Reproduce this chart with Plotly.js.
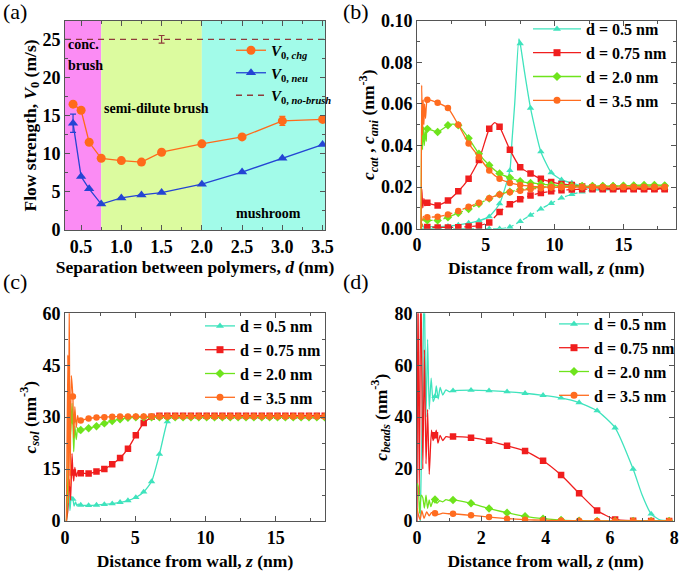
<!DOCTYPE html>
<html><head><meta charset="utf-8">
<script src="https://cdn.plot.ly/plotly-3.0.1.min.js"></script>
<style>html,body{margin:0;padding:0;background:#fff}#chart{width:681px;height:572px}</style>
</head><body><div id="chart"></div>
<script>
// ---------- Panel (a) data ----------
const dSep      = [0.4, 0.5, 0.6, 0.75, 1.0, 1.25, 1.5, 2.0, 2.5, 3.0, 3.5];
const v0Chg     = [16.5, 15.7, 11.5, 9.4, 9.1, 8.9, 10.2, 11.3, 12.2, 14.3, 14.5];
const v0ChgErr  = [0, 0, 0, 0, 0, 0, 0, 0, 0, 0.6, 0];
const v0Neu     = [14.0, 7.0, 5.4, 3.4, 4.2, 4.6, 4.9, 6.0, 7.6, 9.4, 11.2];
const v0NeuErr  = [1.2, 0, 0, 0, 0, 0, 0, 0, 0, 0, 0];
const v0NoBrush = 25;
const v0NoBrushErr = 0.5;
const v0NoBrushErrAt = 1.5;
const regimeBounds = [0.75, 2.0];
const xRangeA = [0.3, 3.53];

// ---------- shared series labels ----------
const seriesNames = ['d = 0.5 nm', 'd = 0.75 nm', 'd = 2.0 nm', 'd = 3.5 nm'];

// ---------- Panel (b): ion concentrations ----------
const zMarkB = [0.75,1.5,2.25,3.0,3.75,4.5,5.25,6.0,6.75,7.5,8.25,9.0,9.75,10.5,11.25,12.0,12.75,13.5,14.25,15.0,15.75,16.5,17.25,18.0];
const cat05  = [0.001,0.001,0.0012,0.0018,0.0027,0.0038,0.0058,0.012,0.028,0.089,0.058,0.037,0.027,0.0235,0.022,0.0205,0.019,0.0185,0.019,0.0192,0.0195,0.0195,0.0195,0.0195];
const cat05xZ = [0.3,0.38,0.48,0.6,6.9,7.1,7.4,7.8];
const cat05xC = [0,0.002,0.0008,0.0012,0.042,0.06,0.0912,0.076];
const ani05  = [0,0,0,0,0,0,0,0,0.0008,0.0035,0.0065,0.0095,0.0122,0.0148,0.0165,0.0177,0.0185,0.019,0.0193,0.0195,0.0195,0.0195,0.0195,0.0195];
const ani05xZ = [0.3];
const ani05xC = [0];
const cat075 = [0.0125,0.0112,0.0135,0.018,0.024,0.033,0.048,0.049,0.038,0.0295,0.0265,0.024,0.0225,0.0215,0.021,0.0203,0.0198,0.0195,0.0193,0.0192,0.0192,0.0192,0.0192,0.0192];
const cat075xZ = [0.3,0.35,0.42,0.5,0.58,0.66,5.65];
const cat075xC = [0,0.019,0.010,0.0145,0.011,0.0135,0.051];
const ani075 = [0.0008,0.0006,0.0006,0.0007,0.001,0.0015,0.003,0.008,0.0118,0.0142,0.016,0.0172,0.018,0.0185,0.0188,0.019,0.019,0.019,0.019,0.019,0.019,0.019,0.019,0.019];
const ani075xZ = [0.3,0.4,0.5];
const ani075xC = [0,0.002,0.0006];
const cat20  = [0.048,0.0465,0.0497,0.0497,0.0435,0.036,0.0305,0.0265,0.0245,0.0228,0.022,0.0215,0.021,0.0207,0.0205,0.0205,0.0205,0.0205,0.0205,0.0207,0.0208,0.021,0.021,0.0208];
const cat20xZ = [0.3,0.34,0.4,0.47,0.53,0.6,0.67,2.6];
const cat20xC = [0,0.057,0.038,0.049,0.040,0.047,0.042,0.0503];
const ani20  = [0.004,0.004,0.0055,0.0075,0.0095,0.012,0.0145,0.0165,0.0178,0.0188,0.0195,0.020,0.0202,0.0203,0.0203,0.0203,0.0204,0.0204,0.0204,0.0205,0.0205,0.0205,0.0205,0.0205];
const ani20xZ = [0.3,0.4,0.5,0.6];
const ani20xC = [0,0.003,0.005,0.0038];
const cat35  = [0.062,0.0605,0.058,0.050,0.041,0.0345,0.028,0.024,0.022,0.021,0.0205,0.020,0.020,0.020,0.020,0.020,0.020,0.020,0.020,0.020,0.020,0.020,0.020,0.020];
const cat35xZ = [0.3,0.34,0.4,0.45,0.5,0.55,0.62,0.68];
const cat35xC = [0,0.069,0.045,0.062,0.050,0.060,0.053,0.059];
const ani35  = [0.0055,0.0057,0.0068,0.0085,0.0105,0.0125,0.0146,0.0165,0.0175,0.0183,0.019,0.0195,0.0198,0.020,0.020,0.020,0.020,0.020,0.020,0.020,0.020,0.020,0.020,0.020];
const ani35xZ = [0.3,0.4,0.5,0.6];
const ani35xC = [0,0.004,0.0065,0.005];

// ---------- Panel (c): solvent concentration ----------
const zMarkC = [0.56,1.12,1.68,2.24,2.8,3.36,3.92,4.48,5.04,5.6,6.16,6.72,7.28,7.84,8.4,8.96,9.52,10.08,10.64,11.2,11.76,12.32,12.88,13.44,14.0,14.56,15.12,15.68,16.24,16.8,17.36,17.92,18.48];
const sol05  = [6.3,4.6,4.5,4.6,4.8,5.0,5.4,5.9,6.8,8.4,11.4,19.3,28.7,30.0,30.0,30.0,30.0,30.0,30.0,30.0,30.0,30.0,30.0,30.0,30.0,30.0,30.0,30.0,30.0,30.0,30.0,30.0,30.0];
const sol05xZ = [0.1,0.2,0.28,0.35,0.45,0.65,0.75,0.85,0.95,7.5];
const sol05xC = [0,5,9,3,7,4.3,5.5,4.4,4.9,29.8];
const sol075 = [14,13.8,13.7,14.3,15.0,16.4,18.2,20.9,24.8,28.3,30.1,30.4,30.4,30.4,30.4,30.4,30.4,30.4,30.4,30.4,30.4,30.4,30.4,30.4,30.4,30.4,30.4,30.4,30.4,30.4,30.4,30.4,30.4];
const sol075xZ = [0.1,0.2,0.3,0.4,0.5,0.62,0.7,0.8,0.9,1.0];
const sol075xC = [0,3,12,6,19.5,11.5,15.5,12.8,14.2,13.5];
const sol20  = [29,26.3,26.8,27.4,28.2,28.9,29.4,29.8,30.0,30.0,30.0,30.0,30.0,30.0,30.0,30.0,30.0,30.0,30.0,30.0,30.0,30.0,30.0,30.0,30.0,30.0,30.0,30.0,30.0,30.0,30.0,30.0,30.0];
const sol20xZ = [0.1,0.2,0.3,0.4,0.5,0.62,0.7,0.8,0.9,1.0];
const sol20xC = [0,12,33,25,34,20,27.5,23.5,27,25.5];
const sol35  = [36,29.0,29.6,29.9,30.0,30.1,30.2,30.2,30.2,30.2,30.2,30.2,30.2,30.2,30.2,30.2,30.2,30.2,30.2,30.2,30.2,30.2,30.2,30.2,30.2,30.2,30.2,30.2,30.2,30.2,30.2,30.2,30.2];
const sol35xZ = [0.1,0.2,0.25,0.3,0.36,0.45,0.62,0.7,0.8,0.9,1.0];
const sol35xC = [0,48,5,65,10,42,24,33,27,30.5,28.5];

// ---------- Panel (d): bead concentration ----------
const zMarkD = [0.56,1.12,1.68,2.24,2.8,3.36,3.92,4.48,5.04,5.6,6.16,6.72,7.28,7.84];
const bead05 = [48,50.2,50.4,50.2,49.8,49.2,48.4,47.4,45.6,42.5,35.9,20.0,2.7,0.1];
const bead05xZ = [0.1,0.17,0.22,0.28,0.33,0.38,0.44,0.5,0.6,0.66,0.72,0.8,0.9,1.0,7.0,7.55];
const bead05xC = [0,45,95,40,70,43,55,46,52,47,51.5,48.5,50.5,49.8,10,0.4];
const bead075 = [33,32.5,32.1,30.9,29.0,27.0,23.2,17.7,10.7,4.0,0.6,0.1,0,0];
const bead075xZ = [0,0.03,0.07,0.12,0.18,0.23,0.28,0.33,0.38,0.45,0.5,0.6,0.65,0.72,0.8,0.9,1.0];
const bead075xC = [0,95,10,95,20,66,22,43,18,35,31,35,30,33,31,32.5,32.3];
const bead20 = [8.3,8.1,6.8,4.8,3.2,1.8,0.9,0.35,0.1,0,0,0,0,0];
const bead20xZ = [0,0.04,0.08,0.13,0.18,0.23,0.28,0.33,0.38,0.43,0.5,0.62,0.7,0.8,0.9,1.0];
const bead20xC = [14.5,13,3,10,9,5,10,4.9,8.1,5.5,8,6.8,7.8,7.4,8.2,7.9];
const bead35 = [3.0,2.8,2.2,1.5,0.9,0.5,0.3,0.15,0.05,0,0,0,0,0];
const bead35xZ = [0,0.05,0.1,0.15,0.22,0.3,0.38,0.45,0.65,0.8,1.0];
const bead35xC = [5,2,0.5,4,1,3.5,2,3.2,2.5,3.0,2.8];

// ---------- styling ----------
const seriesColors  = ['#3fe3bd', '#f01e1e', '#6ee41c', '#ff6c1f'];
const seriesSymbols = ['triangle-up', 'square', 'diamond', 'circle'];
const FONT = '"Liberation Serif", "Times New Roman", serif';
const AXC = '#555555';

const traces = [];
function axIds(n){ return n === 1 ? ['x','y'] : ['x'+n, 'y'+n]; }
function merge(zm, cm, ze, ce){
  const pts = zm.map((z,i)=>[z,cm[i]]).concat(ze.map((z,i)=>[z,ce[i]]));
  pts.sort((a,b)=>a[0]-b[0]);
  return [pts.map(p=>p[0]), pts.map(p=>p[1])];
}
function addSeries(n, zm, cm, ze, ce, k, dash, msize){
  const [xa, ya] = axIds(n);
  const [lx, ly] = merge(zm, cm, ze, ce);
  traces.push({type:'scatter', mode:'lines', x:lx, y:ly, xaxis:xa, yaxis:ya,
    line:{color:seriesColors[k], width:1.3, dash:dash, shape:'spline', smoothing:0.5},
    showlegend:false, hoverinfo:'skip'});
  traces.push({type:'scatter', mode:'markers', x:zm, y:cm, xaxis:xa, yaxis:ya,
    marker:{color:seriesColors[k], symbol:seriesSymbols[k], size:msize},
    showlegend:false, hoverinfo:'skip'});
}
function addLegend(n, k, legendId){
  const [xa, ya] = axIds(n);
  traces.push({type:'scatter', mode:'lines+markers', x:[null], y:[null], xaxis:xa, yaxis:ya,
    name:seriesNames[k], legend:legendId,
    line:{color:seriesColors[k], width:1.3},
    marker:{color:seriesColors[k], symbol:seriesSymbols[k], size:7}});
}

// ---------- panel (a) traces ----------
traces.push({type:'scatter', mode:'lines+markers', x:dSep, y:v0Chg, xaxis:'x', yaxis:'y',
  name:'<i>V</i><sub>0, <i>chg</i></sub>', legend:'legend',
  line:{color:'#ff6a1a', width:1.3}, marker:{color:'#ff6a1a', symbol:'circle', size:9},
  error_y:{type:'data', array:v0ChgErr, visible:true, color:'#ff6a1a', thickness:1.2, width:3}});
traces.push({type:'scatter', mode:'lines+markers', x:dSep, y:v0Neu, xaxis:'x', yaxis:'y',
  name:'<i>V</i><sub>0, <i>neu</i></sub>', legend:'legend',
  line:{color:'#2444d4', width:1.3}, marker:{color:'#2444d4', symbol:'triangle-up', size:9},
  error_y:{type:'data', array:v0NeuErr, visible:true, color:'#2444d4', thickness:1.2, width:3}});
traces.push({type:'scatter', mode:'lines', x:xRangeA, y:[v0NoBrush, v0NoBrush], xaxis:'x', yaxis:'y',
  name:'<i>V</i><sub>0, <i>no-brush</i></sub>', legend:'legend',
  line:{color:'#8e3b3b', width:1.3, dash:'6px,5px'}});
traces.push({type:'scatter', mode:'markers', x:[v0NoBrushErrAt], y:[v0NoBrush], xaxis:'x', yaxis:'y',
  showlegend:false, marker:{size:1, color:'rgba(0,0,0,0)'},
  error_y:{type:'data', array:[v0NoBrushErr], visible:true, color:'#8e3b3b', thickness:1.2, width:3}});

// ---------- panel (b) ----------
const bCat = [[cat05,cat05xZ,cat05xC],[cat075,cat075xZ,cat075xC],[cat20,cat20xZ,cat20xC],[cat35,cat35xZ,cat35xC]];
const bAni = [[ani05,ani05xZ,ani05xC],[ani075,ani075xZ,ani075xC],[ani20,ani20xZ,ani20xC],[ani35,ani35xZ,ani35xC]];
for (let k=0;k<4;k++){
  addSeries(2, zMarkB, bAni[k][0], bAni[k][1], bAni[k][2], k, '5px,3px', 6.5);
  addSeries(2, zMarkB, bCat[k][0], bCat[k][1], bCat[k][2], k, 'solid', 6.5);
}
for (let k=0;k<4;k++) addLegend(2, k, 'legend2');

// ---------- panel (c) ----------
const cSol = [[sol05,sol05xZ,sol05xC],[sol075,sol075xZ,sol075xC],[sol20,sol20xZ,sol20xC],[sol35,sol35xZ,sol35xC]];
for (let k=0;k<4;k++) addSeries(3, zMarkC, cSol[k][0], cSol[k][1], cSol[k][2], k, 'solid', 6.5);
for (let k=0;k<4;k++) addLegend(3, k, 'legend3');

// ---------- panel (d) ----------
const dBead = [[bead05,bead05xZ,bead05xC],[bead075,bead075xZ,bead075xC],[bead20,bead20xZ,bead20xC],[bead35,bead35xZ,bead35xC]];
for (let k=0;k<4;k++) addSeries(4, zMarkD, dBead[k][0], dBead[k][1], dBead[k][2], k, 'solid', 6.5);
for (let k=0;k<4;k++) addLegend(4, k, 'legend4');

// ---------- layout ----------
function ax(extra){
  return Object.assign({showline:true, mirror:'ticks', linecolor:AXC, linewidth:1,
    ticks:'inside', ticklen:5, tickcolor:AXC, tickwidth:1, showgrid:false, zeroline:false,
    tickfont:{family:FONT, size:18, color:'#000', weight:'bold'}}, extra);
}
function withTitle(obj, text, standoff){ obj.title = {text:text, standoff:standoff, font:{family:FONT, size:17.5, color:'#000', weight:'bold'}}; return obj; }

const W = 681, H = 572;
const px = v => v / W, py = v => 1 - v / H;
const legFont = {family:FONT, size:16, color:'#000', weight:'bold'};

const layout = {
  width:W, height:H, margin:{l:0, r:0, t:0, b:0},
  paper_bgcolor:'#fff', plot_bgcolor:'#fff',
  font:{family:FONT, size:17, color:'#000', weight:'bold'},
  xaxis: withTitle(ax({domain:[px(65), px(325)], anchor:'y', range:xRangeA, tick0:0.5, dtick:0.5, tickformat:'.1f',
          minor:{ticks:'inside', ticklen:3, dtick:0.25, tickcolor:AXC}}), 'Separation between polymers, <i>d</i> (nm)', 0),
  yaxis: withTitle(ax({domain:[py(230), py(21)], anchor:'x', range:[0, 27.4], dtick:5,
          minor:{ticks:'inside', ticklen:3, dtick:2.5, tickcolor:AXC}}), 'Flow strength, <i>V</i><sub>0</sub> (m/s)', 0),
  xaxis2: withTitle(ax({domain:[px(417), px(675.7)], anchor:'y2', range:[0, 18.8], dtick:5,
          minor:{ticks:'inside', ticklen:3, dtick:2.5, tickcolor:AXC}}), 'Distance from wall, <i>z</i> (nm)', 7),
  yaxis2: withTitle(ax({domain:[py(228.7), py(20.7)], anchor:'x2', range:[0, 0.1], dtick:0.02, tickformat:'.2f',
          minor:{ticks:'inside', ticklen:3, dtick:0.01, tickcolor:AXC}}), '<i>c</i><sub><i>cat</i></sub> , <i>c</i><sub><i>ani</i></sub> (nm<sup>-3</sup>)', 1),
  xaxis3: withTitle(ax({domain:[px(65), px(325)], anchor:'y3', range:[0, 18.5], dtick:5,
          minor:{ticks:'inside', ticklen:3, dtick:2.5, tickcolor:AXC}}), 'Distance from wall, <i>z</i> (nm)', 8),
  yaxis3: withTitle(ax({domain:[py(521), py(313.3)], anchor:'x3', range:[0, 60], dtick:15,
          minor:{ticks:'inside', ticklen:3, dtick:7.5, tickcolor:AXC}}), '<i>c</i><sub><i>sol</i></sub> (nm<sup>-3</sup>)', 0),
  xaxis4: withTitle(ax({domain:[px(417), px(674.3)], anchor:'y4', range:[0, 8], dtick:2,
          minor:{ticks:'inside', ticklen:3, dtick:1, tickcolor:AXC}}), 'Distance from wall, <i>z</i> (nm)', 8),
  yaxis4: withTitle(ax({domain:[py(521), py(313.3)], anchor:'x4', range:[0, 80], dtick:20,
          minor:{ticks:'inside', ticklen:3, dtick:10, tickcolor:AXC}}), '<i>c</i><sub><i>beads</i></sub> (nm<sup>-3</sup>)', 2),
  legend:  {x:px(231), y:py(34), xanchor:'left', yanchor:'top', bgcolor:'rgba(0,0,0,0)', borderwidth:0,
            font:{family:FONT, size:15, color:'#000', weight:'bold'}, itemwidth:30, tracegroupgap:0},
  legend2: {x:px(528), y:py(12), xanchor:'left', yanchor:'top', bgcolor:'rgba(0,0,0,0)', borderwidth:0,
            font:legFont, itemwidth:48},
  legend3: {x:px(200), y:py(309), xanchor:'left', yanchor:'top', bgcolor:'rgba(0,0,0,0)', borderwidth:0,
            font:legFont, itemwidth:30},
  legend4: {x:px(554), y:py(307), xanchor:'left', yanchor:'top', bgcolor:'rgba(0,0,0,0)', borderwidth:0,
            font:legFont, itemwidth:30},
  shapes: [
    {type:'rect', xref:'x', yref:'y domain', x0:xRangeA[0], x1:regimeBounds[0], y0:0, y1:1, fillcolor:'#fb8cf4', line:{width:0}, layer:'below'},
    {type:'rect', xref:'x', yref:'y domain', x0:regimeBounds[0], x1:regimeBounds[1], y0:0, y1:1, fillcolor:'#dcfb9f', line:{width:0}, layer:'below'},
    {type:'rect', xref:'x', yref:'y domain', x0:regimeBounds[1], x1:xRangeA[1], y0:0, y1:1, fillcolor:'#a2fbe9', line:{width:0}, layer:'below'}
  ],
  annotations: [
    {xref:'x', yref:'y', x:0.31, y:24.3, text:'conc.', showarrow:false, xanchor:'left', font:{family:FONT, size:14, weight:'bold'}},
    {xref:'x', yref:'y', x:0.31, y:21.5, text:'brush', showarrow:false, xanchor:'left', font:{family:FONT, size:14, weight:'bold'}},
    {xref:'x', yref:'y', x:0.76, y:15.9, text:'semi-dilute brush', showarrow:false, xanchor:'left', font:{family:FONT, size:14, weight:'bold'}},
    {xref:'x', yref:'y', x:2.83, y:2.2, text:'mushroom', showarrow:false, xanchor:'center', font:{family:FONT, size:14, weight:'bold'}},
    {xref:'paper', yref:'paper', x:px(1), y:py(12), text:'(a)', showarrow:false, xanchor:'left', yanchor:'middle', font:{family:FONT, size:22, weight:'normal'}},
    {xref:'paper', yref:'paper', x:px(341), y:py(12), text:'(b)', showarrow:false, xanchor:'left', yanchor:'middle', font:{family:FONT, size:22, weight:'normal'}},
    {xref:'paper', yref:'paper', x:px(1), y:py(281), text:'(c)', showarrow:false, xanchor:'left', yanchor:'middle', font:{family:FONT, size:22, weight:'normal'}},
    {xref:'paper', yref:'paper', x:px(341), y:py(281), text:'(d)', showarrow:false, xanchor:'left', yanchor:'middle', font:{family:FONT, size:22, weight:'normal'}}
  ]
};

Plotly.newPlot('chart', traces, layout, {staticPlot:true, displayModeBar:false});
</script>
</body></html>
